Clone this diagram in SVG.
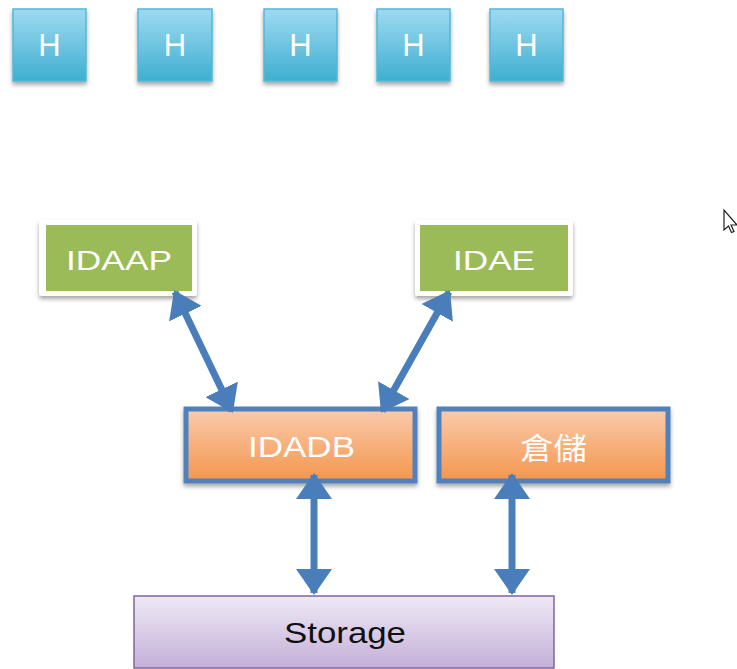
<svg xmlns="http://www.w3.org/2000/svg" width="737" height="669" viewBox="0 0 737 669">
<defs>
<linearGradient id="gBlue" x1="0" y1="0" x2="0" y2="1"><stop offset="0" stop-color="#9fdaf1"/><stop offset="1" stop-color="#3eafd0"/></linearGradient>
<linearGradient id="gOrange" x1="0" y1="0" x2="0" y2="1"><stop offset="0" stop-color="#facbad"/><stop offset="1" stop-color="#f4964c"/></linearGradient>
<linearGradient id="gPurple" x1="0" y1="0" x2="0" y2="1"><stop offset="0" stop-color="#efe9f5"/><stop offset="1" stop-color="#c4b0d8"/></linearGradient>
<filter id="sh" x="-20%" y="-20%" width="140%" height="150%"><feDropShadow dx="0" dy="3" stdDeviation="2" flood-color="#000" flood-opacity="0.35"/></filter>
<marker id="ah" viewBox="0 0 26 36" refX="24" refY="18" markerWidth="26" markerHeight="36" markerUnits="userSpaceOnUse" orient="auto-start-reverse"><path d="M0,0 L26,18 L0,36 Z" fill="#4a7ebb"/></marker>
<style>
.h rect{fill:url(#gBlue);stroke:#56b7d6;stroke-width:1.5;filter:url(#sh)}
.h text{font-family:"Liberation Sans",Arial,sans-serif;font-size:31px;fill:#fff;text-anchor:middle}
.g .outer{fill:#fff;filter:url(#sh)}
.g .inner{fill:#9bbb59}
.g text{font-family:"Liberation Sans",Arial,sans-serif;font-size:28px;fill:#fff;text-anchor:middle}
.o rect{fill:url(#gOrange);stroke:#4f81bd;stroke-width:5;filter:url(#sh)}
.o text{font-family:"Liberation Sans","Noto Sans CJK TC",Arial,sans-serif;font-size:30px;fill:#fff;text-anchor:middle}
.s rect{fill:url(#gPurple);stroke:#8064a2;stroke-width:1.5}
.s text{font-family:"Liberation Sans",Arial,sans-serif;font-size:30px;fill:#111;text-anchor:middle}
.conn line{stroke:#4a7ebb;stroke-width:7;marker-start:url(#ah);marker-end:url(#ah)}
</style>
</defs>
<g id="h1" class="h"><rect x="13" y="9" width="73" height="72"/><text x="49.5" y="56">H</text></g>
<g id="h2" class="h"><rect x="138" y="9" width="74" height="72"/><text x="175" y="56">H</text></g>
<g id="h3" class="h"><rect x="264" y="9" width="73" height="72"/><text x="300.5" y="56">H</text></g>
<g id="h4" class="h"><rect x="377" y="9" width="73" height="72"/><text x="413.5" y="56">H</text></g>
<g id="h5" class="h"><rect x="490" y="9" width="73" height="72"/><text x="526.5" y="56">H</text></g>
<g id="idaap" class="g"><rect class="outer" x="39" y="220" width="158" height="76" rx="3"/><rect class="inner" x="46" y="225" width="146" height="66"/><text x="119" y="270" textLength="106" lengthAdjust="spacingAndGlyphs">IDAAP</text></g>
<g id="idae" class="g"><rect class="outer" x="415" y="220" width="158" height="76" rx="3"/><rect class="inner" x="420" y="225" width="148" height="66"/><text x="494" y="270" textLength="82" lengthAdjust="spacingAndGlyphs">IDAE</text></g>
<g id="idadb" class="o"><rect x="186" y="409" width="229" height="72"/><text x="301.5" y="457" textLength="107" lengthAdjust="spacingAndGlyphs">IDADB</text></g>
<g id="cangchu" class="o"><rect x="439" y="409" width="229" height="72"/><text x="553.5" y="459" textLength="67" lengthAdjust="spacingAndGlyphs">倉儲</text></g>
<g id="storage" class="s"><rect x="134" y="596" width="420" height="72"/><text x="345" y="643" textLength="122" lengthAdjust="spacingAndGlyphs">Storage</text></g>
<g id="connectors" class="conn">
<line x1="175" y1="292" x2="232" y2="411"/>
<line x1="449" y1="292" x2="382" y2="411"/>
<line x1="314" y1="475" x2="314" y2="593"/>
<line x1="512" y1="475" x2="512" y2="593"/>
</g>
<g id="cursor"><path d="M724,210 L724,230 L728.5,226 L731.5,232.5 L734,231.5 L731,225 L737,225 Z" fill="#fff" stroke="#222" stroke-width="1.2"/></g>
</svg>
